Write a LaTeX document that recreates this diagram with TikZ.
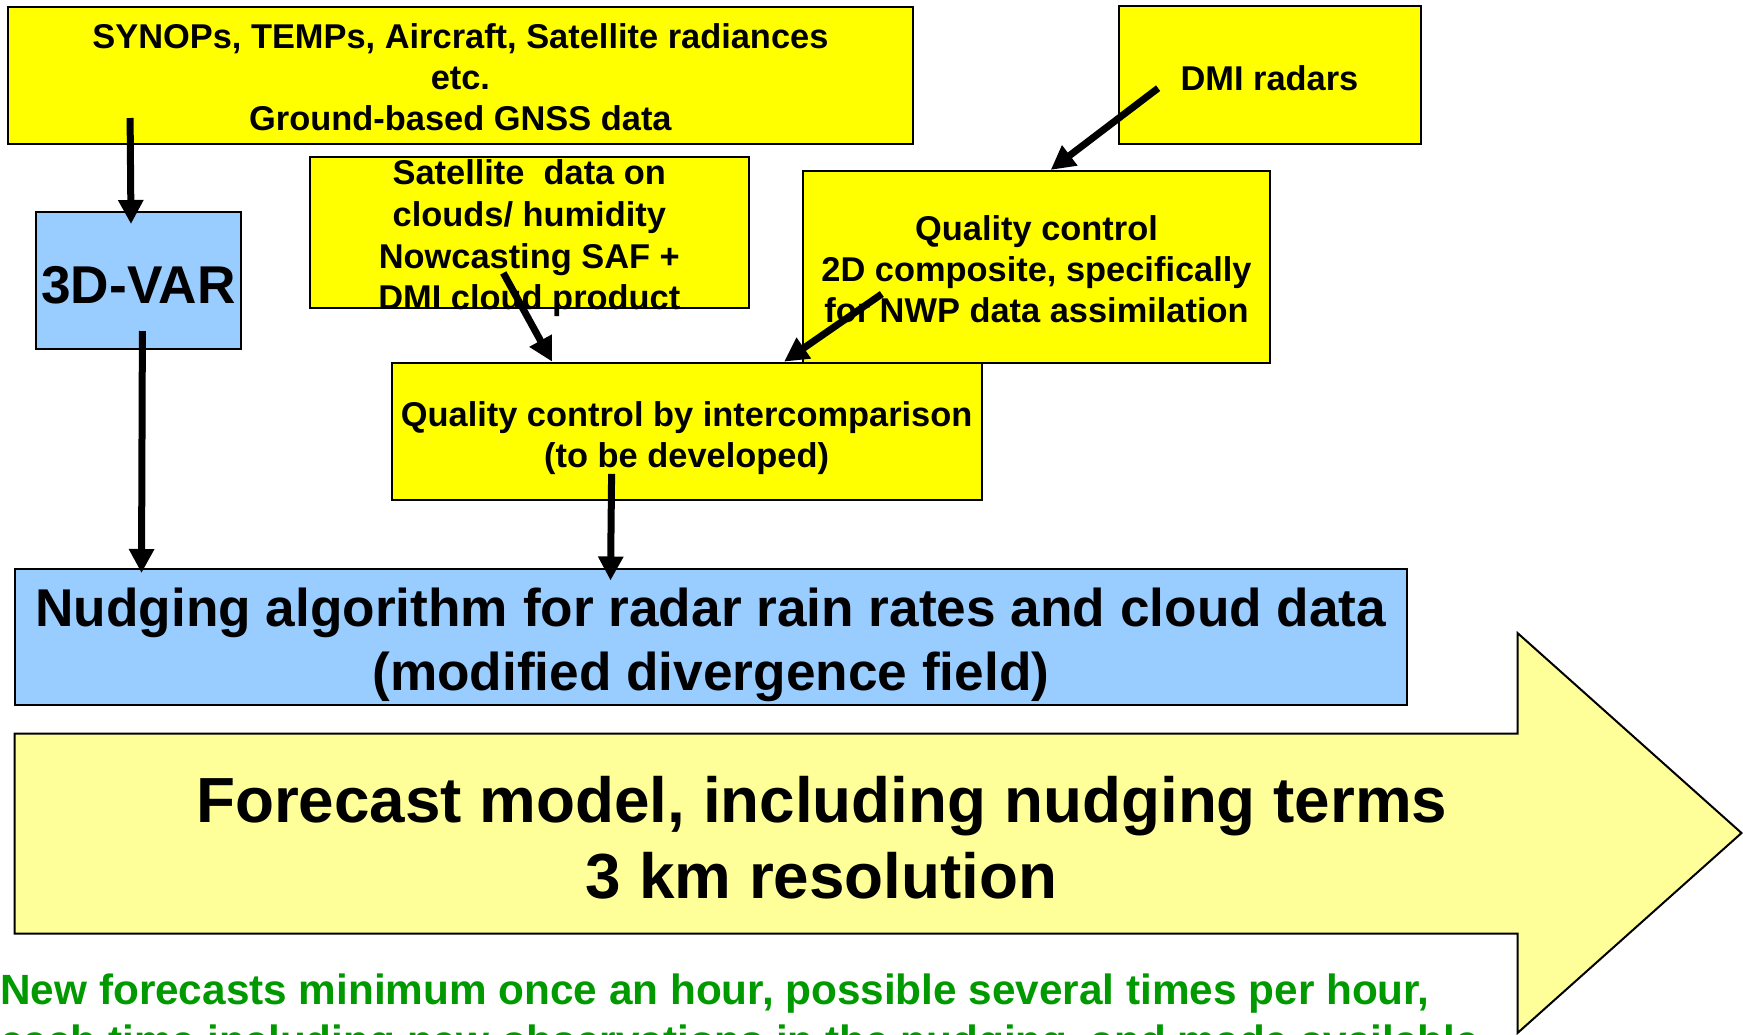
\documentclass[tikz,border=0pt]{standalone}
\usepackage{fontspec}
\setmainfont{Liberation Sans}
\usepackage{xcolor}
\usetikzlibrary{arrows.meta,calc}
\definecolor{boxyellow}{RGB}{255,255,0}
\definecolor{boxblue}{RGB}{153,204,255}
\definecolor{paleyellow}{RGB}{255,255,153}
\definecolor{fcgreen}{RGB}{0,153,0}

\begin{document}
\begin{tikzpicture}[x=0.5pt,y=-0.5pt]
  \tikzstyle{box} = [draw=black,line width=1pt,rectangle,inner sep=0pt];
  \tikzstyle{obs} = [box,fill=boxyellow];
  \tikzstyle{alg} = [box,fill=boxblue];
  \tikzstyle{txt} = [align=center,inner sep=0pt,font=\fontsize{17.2}{20.5}\selectfont\bfseries];
  \tikzstyle{bigtxt} = [txt,font=\fontsize{26.6}{31.7}\selectfont\bfseries];
  \tikzstyle{flow} = [line width=3.5pt,-{Triangle[length=12pt,width=12pt]}];
  \useasboundingbox (0,0) rectangle (1743,1034);
  \clip (0,0) rectangle (1743,1034);
  % observation sources
  \node[obs,minimum width=452.5pt,minimum height=68.5pt,
    label={[txt,yshift=-1.1pt]center:{SYNOPs, TEMPs, Aircraft, Satellite radiances\\etc.\\Ground-based GNSS data}}]
    (synop) at (460.4,75) {};
  \node[obs,minimum width=151pt,minimum height=68.75pt,
    label={[txt,yshift=-1.7pt]center:DMI radars}] (radar) at (1269.5,75.2) {};
  \node[alg,minimum width=102.8pt,minimum height=68.5pt,
    label={[bigtxt,yshift=-2.2pt]center:3D-VAR}] (var) at (138.4,280.5) {};
  \node[obs,minimum width=219.4pt,minimum height=75.25pt,
    label={[txt,font=\fontsize{17.2}{20.8}\selectfont\bfseries,yshift=-2.8pt]center:{Satellite~ data on\\clouds/ humidity\\Nowcasting SAF +\\DMI cloud product}}]
    (sat) at (529.3,232.7) {};
  \node[obs,minimum width=233.2pt,minimum height=95.9pt,
    label={[txt,yshift=-1.4pt]center:{Quality control\\2D composite, specifically\\for NWP data assimilation}}]
    (qc2d) at (1036.5,266.8) {};
  \node[obs,minimum width=295pt,minimum height=68.65pt,
    label={[txt,yshift=-3.6pt]center:{Quality control by intercomparison\\(to be developed)}}]
    (qcint) at (686.6,431.3) {};
  \node[alg,minimum width=696.3pt,minimum height=68pt,
    label={[bigtxt,yshift=-3.9pt]center:{Nudging algorithm for radar rain rates and cloud data\\(modified divergence field)}}]
    (nudge) at (710.8,637) {};
  % forecast model arrow
  \draw[line width=1pt,fill=paleyellow] (14.5,733.5) -- (1517.5,733.5) -- (1517.5,633) -- (1741.5,833)
    -- (1517.5,1033) -- (1517.5,933.5) -- (14.5,933.5) -- cycle;
  \node[align=center,inner sep=0pt,font=\fontsize{31.9}{37.8}\selectfont\bfseries] (fcast) at (821.7,838)
    {Forecast model, including nudging terms\\3 km resolution};
  \node[anchor=north west,align=left,inner sep=0pt,text=fcgreen,font=\fontsize{21.15}{25.5}\selectfont\bfseries] (note) at (0,973)
    {New forecasts minimum once an hour, possible several times per hour,\\each time including new observations in the nudging, and made available};
  % data flow
  \draw[flow] ($(synop.south west)+(123.2,-26.5)$) -- ($(var.north)+(-7.4,13)$);
  \draw[flow] ($(var.south)+(4,-19)$) -- ($(nudge.north west)+(128,5)$);
  \draw[flow] ($(radar.west)+(40.6,13)$) -- ($(qc2d.north)+(14.2,0)$);
  \draw[flow] ($(sat.south)+(-26,-36)$) -- ($(qcint.north west)+(161.5,0)$);
  \draw[flow] ($(qc2d.south west)+(79.5,-69.7)$) -- ($(qcint.north west)+(393.5,0)$);
  \draw[flow] ($(qcint.south)+(-75,-27)$) -- ($(nudge.north west)+(597,12.5)$);
\end{tikzpicture}
\end{document}
